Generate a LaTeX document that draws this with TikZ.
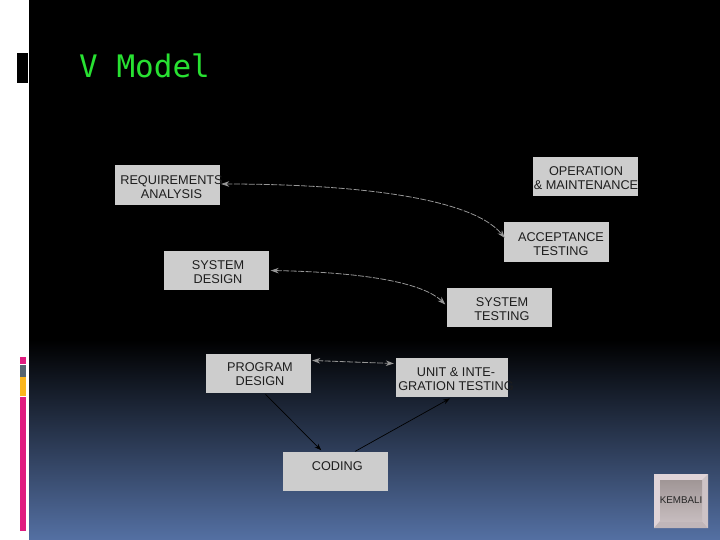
\documentclass[tikz,border=0pt]{standalone}
\usepackage{fontspec}
\setmainfont{Liberation Sans}
\newfontfamily\titlefont{DejaVu Sans Mono}
\usetikzlibrary{calc,arrows.meta}
\definecolor{boxgray}{RGB}{205,205,205}
\definecolor{boxtext}{RGB}{30,30,30}
\definecolor{titlegreen}{RGB}{40,225,50}
\definecolor{bluebottom}{RGB}{84,112,163}
\definecolor{linkgray}{RGB}{150,150,150}
\definecolor{barpink}{RGB}{224,28,128}
\definecolor{bargray}{RGB}{85,100,112}
\definecolor{baryellow}{RGB}{250,182,30}
\definecolor{logolight}{RGB}{224,212,216}
\definecolor{logolow}{RGB}{192,182,185}
\definecolor{logoright}{RGB}{205,195,198}
\definecolor{logotop}{RGB}{160,150,150}
\definecolor{logobottom}{RGB}{198,188,190}
\newcommand\lbl[3]{\raisebox{#2pt}[0pt][0pt]{\makebox[0pt]{\hspace{#1pt}\begin{tabular}{@{}c@{}}#3\end{tabular}}}}
\tikzset{
  stage/.style={fill=boxgray,draw=none,inner sep=0pt,minimum width=105pt,minimum height=39.5pt,
    text=boxtext,font=\fontsize{12.7}{14}\selectfont},
  grayarrow/.style={draw=linkgray,line width=0.8pt,dash pattern=on 6pt off 1.5pt,
    {Stealth[length=8pt,width=5.5pt,fill=linkgray]}-{Stealth[length=8pt,width=5.5pt,fill=linkgray]}},
  blackarrow/.style={draw=black,line width=0.7pt,-{Stealth[length=7pt,width=5pt]}}
}
\begin{document}
\begin{tikzpicture}[x=1pt,y=-1pt]
\useasboundingbox (0,0) rectangle (720,540);
\fill[white] (0,0) rectangle (29,540);
\fill[black] (29,0) rectangle (720,341);
\shade[top color=black,bottom color=bluebottom] (29,340) rectangle (720,540);
\fill[black] (17,53) rectangle (28,83);
\fill[barpink] (20,357) rectangle (26,364);
\fill[bargray] (20,365) rectangle (26,377);
\fill[baryellow] (20,377) rectangle (26,396);
\fill[barpink] (20,397) rectangle (26,531);
\node[anchor=base west,inner sep=0pt,text=titlegreen,font=\titlefont\fontsize{31}{34}\selectfont] (title) at (79,78) {V Model};
\node[stage] (req) at (167.5,185) {\lbl{8}{-7}{REQUIREMENTS\\ANALYSIS}};
\node[stage] (sysd) at (216,270.5) {\lbl{4}{-6.5}{SYSTEM\\DESIGN}};
\node[stage] (op) at (585.5,176.5) {\lbl{1}{-6}{OPERATION\\\& MAINTENANCE}};
\node[stage] (acc) at (556.5,242) {\lbl{9}{-7}{ACCEPTANCE\\TESTING}};
\node[stage] (syst) at (499,307.5) {\lbl{6}{-6}{SYSTEM\\TESTING}};
\node[stage] (prog) at (258.5,373.5) {\lbl{3}{-5}{PROGRAM\\DESIGN}};
\node[stage,minimum width=112pt] (unit) at (452,377.5) {\lbl{8}{-6}{UNIT \& INTE-\\GRATION TESTING}};
\node[stage,minimum height=39.5pt] (cod) at (335.25,471.25) {\lbl{4}{1}{CODING}};
\draw[grayarrow] ($(req.east)+(1,-1)$) .. controls (340,184) and (470,195) .. ($(acc.west)+(1,-4)$);
\draw[grayarrow] ($(sysd.east)+(2,0)$) .. controls (350,272) and (420,280) .. ($(syst.west)+(-1,-3)$);
\draw[grayarrow] ($(prog.east)+(1,-13)$) -- ($(unit.west)+(-2,-14)$);
\draw[blackarrow] ($(prog.south)+(7,1)$) -- ($(cod.north)+(-14,-1)$);
\draw[blackarrow] ($(cod.north)+(20,0)$) -- ($(unit.south)+(-2,1)$);
% logo
\fill[logolight] (654,474) rectangle (708,528);
\fill[logolow] (654,528) -- (660,521) -- (702,521) -- (708,528) -- cycle;
\fill[logoright] (702,480) -- (708,474) -- (708,528) -- (702,521) -- cycle;
\shade[top color=logotop,bottom color=logobottom] (660,480) rectangle (702,521);
\node[inner sep=0pt,text=black!85,font=\fontsize{9.8}{12}\selectfont] (logo) at (681,500.5) {KEMBALI};
\end{tikzpicture}
\end{document}
